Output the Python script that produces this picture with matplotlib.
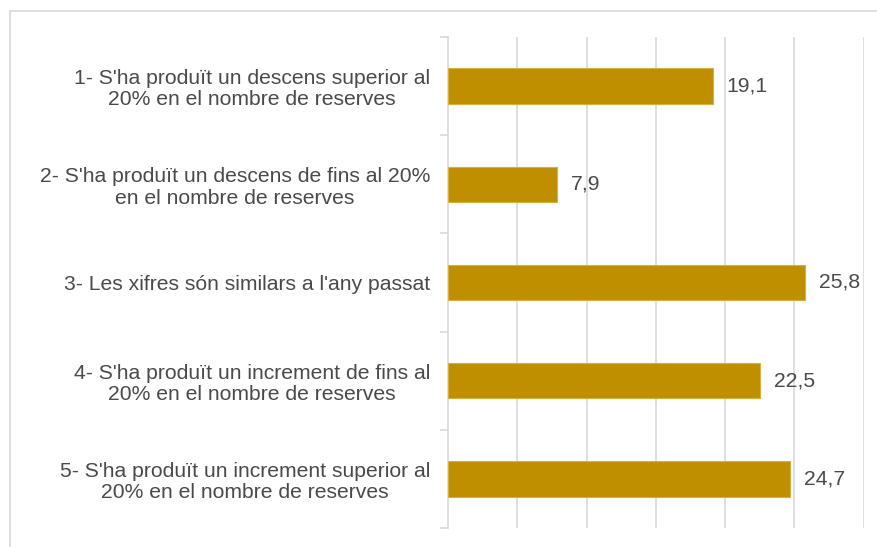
import matplotlib
matplotlib.use("Agg")
import matplotlib.pyplot as plt
from matplotlib.patches import Rectangle

categories = [
    "1- S'ha produït un descens superior al\n20% en el nombre de reserves",
    "2- S'ha produït un descens de fins al 20%\nen el nombre de reserves",
    "3- Les xifres són similars a l'any passat",
    "4- S'ha produït un increment de fins al\n20% en el nombre de reserves",
    "5- S'ha produït un increment superior al\n20% en el nombre de reserves",
]
values = [19.1, 7.9, 25.8, 22.5, 24.7]
value_labels = ["19,1", "7,9", "25,8", "22,5", "24,7"]

plt.rcParams['font.family'] = ['Liberation Sans', 'DejaVu Sans']
W, H = 877, 547
fig = plt.figure(figsize=(W / 100, H / 100), dpi=100)
fig.patch.set_facecolor('white')

# outer chart border
fig.add_artist(Rectangle((10 / W, -0.05), 1.2, (H - 11) / H + 0.05, transform=fig.transFigure,
                         fill=False, edgecolor='#d9d9d9', linewidth=1.2))

left, right = 448 / W, 863.5 / W
top, bottom = 37 / H, 528 / H
ax = fig.add_axes([left, 1 - bottom, right - left, bottom - top])

n = len(categories)
ypos = list(range(n))
ax.barh(ypos, values, height=0.36, color='#BF8F00', edgecolor='#D9B040', linewidth=0.8, zorder=3)
ax.set_ylim(n - 0.5, -0.5)
ax.set_xlim(0, 30)
ax.set_xticks([5, 10, 15, 20, 25, 30])
ax.xaxis.grid(True, color='#d9d9d9', linewidth=1.2, zorder=0)
ax.tick_params(axis='x', length=0, labelbottom=False)

# category labels
ax.set_yticks(ypos)
ax.set_yticklabels(categories, fontsize=15.2, color='#4a4a4a', multialignment='center',
                   linespacing=1.15)
ax.tick_params(axis='y', length=0, pad=13)
# minor ticks at category boundaries
ax.set_yticks([i - 0.5 for i in range(n + 1)], minor=True)
ax.tick_params(axis='y', which='minor', length=6, color='#d9d9d9', width=1.2)

for s in ['top', 'right', 'bottom']:
    ax.spines[s].set_visible(False)
ax.spines['left'].set_color('#d9d9d9')
ax.spines['left'].set_linewidth(1.2)

for y, v, lab in zip(ypos, values, value_labels):
    ax.annotate(lab, (v, y), xytext=(10, 0), textcoords='offset points',
                va='center', ha='left', fontsize=15.2, color='#4a4a4a')

fig.savefig('out.png', dpi=100, facecolor='white')
